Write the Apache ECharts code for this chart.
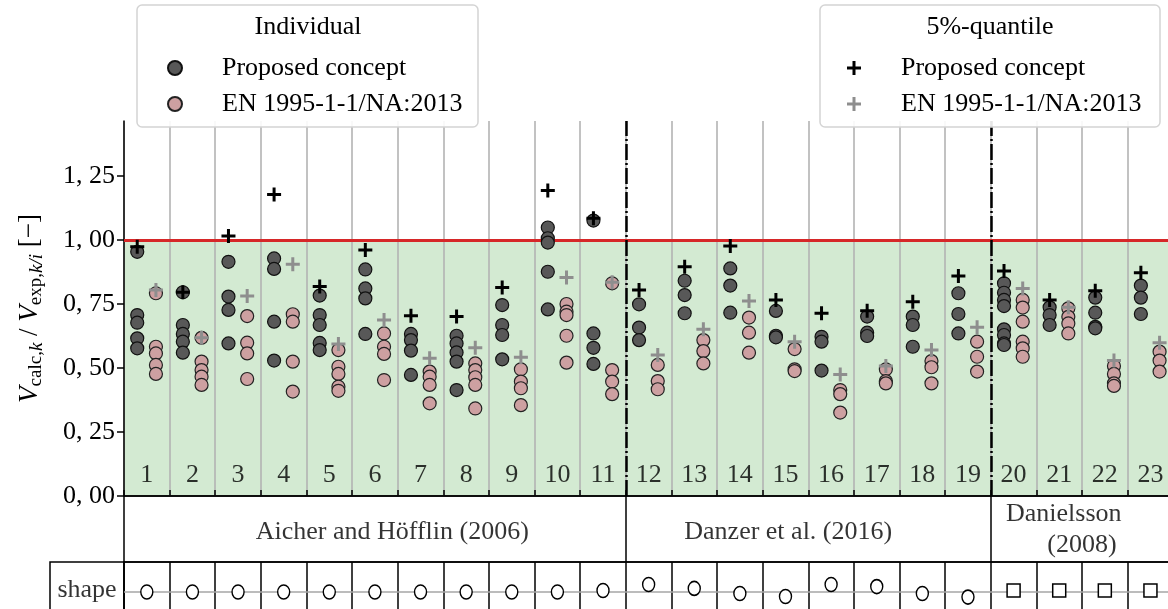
<!DOCTYPE html>
<html>
<head>
<meta charset="utf-8">
<script src="https://cdn.jsdelivr.net/npm/echarts@6/dist/echarts.min.js"></script>
<style>
  html, body { margin: 0; padding: 0; background: #fff; }
  #chart { width: 1168px; height: 609px; }
</style>
</head>
<body>
<div id="chart"></div>
<script>
// categories (test series 1..23)
const categories = ['1', '2', '3', '4', '5', '6', '7', '8', '9', '10', '11', '12',
  '13', '14', '15', '16', '17', '18', '19', '20', '21', '22', '23']

// individual values, proposed concept (one list per category)
const proposedIndividual = [
  [0.954, 0.707, 0.677, 0.616, 0.577],
  [0.796, 0.668, 0.633, 0.603, 0.560],
  [0.915, 0.779, 0.727, 0.596],
  [0.928, 0.887, 0.681, 0.529],
  [0.783, 0.707, 0.668, 0.598, 0.570],
  [0.885, 0.811, 0.772, 0.633],
  [0.633, 0.609, 0.568, 0.473],
  [0.626, 0.596, 0.561, 0.525, 0.414],
  [0.746, 0.668, 0.629, 0.534],
  [1.049, 1.007, 0.990, 0.876, 0.729],
  [1.076, 0.635, 0.579, 0.516],
  [0.749, 0.658, 0.609],
  [0.841, 0.785, 0.714],
  [0.889, 0.822, 0.716],
  [0.723, 0.626, 0.620],
  [0.622, 0.603, 0.490],
  [0.701, 0.638, 0.625],
  [0.701, 0.668, 0.583],
  [0.792, 0.711, 0.635],
  [0.831, 0.794, 0.766, 0.742, 0.651, 0.629, 0.596, 0.590],
  [0.737, 0.707, 0.668],
  [0.775, 0.716, 0.661, 0.655],
  [0.822, 0.775, 0.711]
]

// individual values, EN 1995-1-1/NA:2013
const enIndividual = [
  [0.792, 0.583, 0.557, 0.512, 0.477],
  [0.618, 0.525, 0.492, 0.466, 0.434],
  [0.703, 0.599, 0.557, 0.457],
  [0.710, 0.681, 0.525, 0.408],
  [0.570, 0.505, 0.477, 0.427, 0.411],
  [0.635, 0.583, 0.555, 0.453],
  [0.486, 0.466, 0.434, 0.362],
  [0.518, 0.492, 0.464, 0.434, 0.342],
  [0.495, 0.447, 0.421, 0.355],
  [0.750, 0.720, 0.707, 0.626, 0.521],
  [0.831, 0.492, 0.447, 0.398],
  [0.512, 0.449, 0.417],
  [0.609, 0.566, 0.518],
  [0.697, 0.638, 0.560],
  [0.574, 0.495, 0.488],
  [0.414, 0.398, 0.326],
  [0.495, 0.449, 0.440],
  [0.527, 0.503, 0.440],
  [0.603, 0.544, 0.486],
  [0.766, 0.736, 0.681, 0.603, 0.577, 0.544],
  [0.733, 0.700, 0.674, 0.635],
  [0.508, 0.477, 0.440, 0.430],
  [0.564, 0.529, 0.486]
]

// 5%-quantiles
const proposedQuantile = [0.974, 0.796, 1.016, 1.178, 0.818, 0.961, 0.704, 0.701, 0.815, 1.193, 1.085, 0.805,
  0.896, 0.977, 0.766, 0.714, 0.724, 0.759, 0.859, 0.879, 0.766, 0.802, 0.872]
const enQuantile = [0.805, 0.618, 0.781, 0.905, 0.594, 0.688, 0.538, 0.579, 0.542, 0.854, 0.835, 0.551,
  0.651, 0.762, 0.603, 0.475, 0.508, 0.570, 0.659, 0.811, 0.737, 0.529, 0.599]

const yTicks = [0, 0.25, 0.5, 0.75, 1.0, 1.25]

// source groups (last category of each group)
const groupNames = ['Aicher and Höfflin (2006)', 'Danzer et al. (2016)', 'Danielsson', '(2008)']
const groupEnds = [11, 19, 23]

// cross-section shape per category and its drawn height in the cell
const shapes = ['circle', 'circle', 'circle', 'circle', 'circle', 'circle', 'circle', 'circle', 'circle',
  'circle', 'circle', 'circle', 'circle', 'circle', 'circle', 'circle', 'circle', 'circle', 'circle',
  'square', 'square', 'square', 'square']
const shapeLevel = [0, 0, 0, 0, 0, 0, 0, 0, 0, 0, 0.05, 0.25, 0.12, -0.05, -0.15, 0.25, 0.18, -0.05, -0.17,
  0.05, 0.05, 0.05, 0.05]

// layout
const UNIT = 45.62
const GRID_W = 1064
const X_MAX = GRID_W / UNIT
const FONT = 'Liberation Serif'
const groupLabelPos = [[5.88, 0.455], [14.56, 0.455], [20.6, 0.73], [21.0, 0.26]]
const PLUS = 'path://M-1.5,-7H1.5V-1.5H7V1.5H1.5V7H-1.5V1.5H-7V-1.5H-1.5Z'

const toPoints = (rows, shift) => rows.flatMap((vals, i) => vals.map(v => [i + 0.5 + shift, v]))

const chart = echarts.init(document.getElementById('chart'))

chart.setOption({
  animation: false,
  grid: [
    { left: 124, width: GRID_W, top: 121, height: 375, outerBoundsMode: 'none' },
    { left: 124, width: GRID_W, top: 496, height: 66, outerBoundsMode: 'none', show: true, borderColor: '#000', borderWidth: 1.5 },
    { left: 124, width: GRID_W, top: 562, height: 60, outerBoundsMode: 'none', show: true, borderColor: '#000', borderWidth: 1.5 },
    { left: 50, width: 74, top: 562, height: 60, outerBoundsMode: 'none', show: true, borderColor: '#000', borderWidth: 1.5 }
  ],
  xAxis: [
    {
      gridIndex: 0, type: 'value', min: 0, max: X_MAX, interval: 1,
      axisLine: { lineStyle: { color: '#000', width: 1.5 } },
      axisTick: { show: true, inside: true, length: 6, lineStyle: { color: '#000', width: 1.5 } },
      axisLabel: { show: false },
      splitLine: { show: true, lineStyle: { color: '#b3b3b3', width: 1.6 } }
    },
    { gridIndex: 1, type: 'value', min: 0, max: X_MAX, show: false },
    {
      gridIndex: 2, type: 'value', min: 0, max: X_MAX, interval: 1,
      axisLine: { show: false }, axisTick: { show: false }, axisLabel: { show: false },
      splitLine: { show: true, lineStyle: { color: '#000', width: 1.5 } }
    },
    { gridIndex: 3, type: 'value', min: 0, max: 1, show: false }
  ],
  yAxis: [
    {
      gridIndex: 0, type: 'value', min: 0, max: 1.465, interval: 0.25,
      axisLine: { show: true, lineStyle: { color: '#000', width: 1.5 } },
      axisTick: { show: true, length: 7, customValues: yTicks, lineStyle: { color: '#000', width: 1.5 } },
      axisLabel: {
        customValues: yTicks, margin: 9, color: '#000', fontFamily: FONT, fontSize: 26,
        formatter: v => v.toFixed(2).replace('.', ', ')
      },
      splitLine: { show: false },
      name: '{v|V}{s|calc,}{si|k}{n| / }{v|V}{s|exp,}{si|k/i}{n| [−]}',
      nameLocation: 'middle',
      nameRotate: 90,
      nameGap: 78,
      nameTextStyle: {
        rich: {
          v: { fontFamily: FONT, fontStyle: 'italic', fontSize: 27, lineHeight: 30, verticalAlign: 'top', color: '#000' },
          n: { fontFamily: FONT, fontSize: 27, lineHeight: 30, verticalAlign: 'top', color: '#000' },
          s: { fontFamily: FONT, fontSize: 19, lineHeight: 22, padding: [14, 0, 0, 0], verticalAlign: 'bottom', color: '#000' },
          si: { fontFamily: FONT, fontStyle: 'italic', fontSize: 19, lineHeight: 22, padding: [14, 0, 0, 0], verticalAlign: 'bottom', color: '#000' }
        }
      }
    },
    { gridIndex: 1, type: 'value', min: 0, max: 1, show: false },
    { gridIndex: 2, type: 'value', min: -1, max: 1, show: false },
    { gridIndex: 3, type: 'value', min: -1, max: 1, show: false }
  ],
  legend: [
    {
      data: ['Individual: Proposed concept', 'Individual: EN 1995-1-1/NA:2013'],
      left: 162, top: 49, orient: 'vertical', itemWidth: 84, itemHeight: 14, itemGap: 8,
      selectedMode: false, z: 5,
      formatter: n => n.split(': ')[1],
      textStyle: { fontFamily: FONT, fontSize: 26, lineHeight: 28, color: '#000' }
    },
    {
      data: ['5%-quantile: Proposed concept', '5%-quantile: EN 1995-1-1/NA:2013'],
      left: 842, top: 49, orient: 'vertical', itemWidth: 84, itemHeight: 14, itemGap: 8,
      selectedMode: false, z: 5,
      formatter: n => n.split(': ')[1],
      textStyle: { fontFamily: FONT, fontSize: 26, lineHeight: 28, color: '#000' }
    }
  ],
  graphic: [
    { type: 'rect', z: 3, shape: { x: 137, y: 5, width: 341, height: 122, r: 5 },
      style: { fill: 'rgba(255,255,255,0.9)', stroke: '#d4d4d4', lineWidth: 1.5 } },
    { type: 'rect', z: 3, shape: { x: 820, y: 5, width: 340, height: 122, r: 5 },
      style: { fill: 'rgba(255,255,255,0.9)', stroke: '#d4d4d4', lineWidth: 1.5 } },
    { type: 'text', z: 6, x: 308, y: 27,
      style: { text: 'Individual', textAlign: 'center', textVerticalAlign: 'middle', font: '26px "Liberation Serif"', fill: '#000' } },
    { type: 'text', z: 6, x: 990, y: 27,
      style: { text: '5%-quantile', textAlign: 'center', textVerticalAlign: 'middle', font: '26px "Liberation Serif"', fill: '#000' } }
  ],
  series: [
    // green band below 1.0
    {
      type: 'line', data: [], z: -1, silent: true,
      markArea: {
        silent: true, z: -1,
        itemStyle: { color: '#d3ead2' },
        data: [[{ yAxis: 0 }, { yAxis: 1 }]]
      }
    },
    // limit line and group separators
    {
      type: 'line', data: [], silent: true,
      markLine: {
        silent: true, z: 1, symbol: ['none', 'none'], label: { show: false },
        data: [
          { yAxis: 1, lineStyle: { color: '#d62728', width: 3, type: 'solid' } },
          ...groupEnds.slice(0, 2).map(g => ({ xAxis: g, lineStyle: { color: '#000', width: 2.5, type: [16, 3, 2, 3] } }))
        ]
      }
    },
    {
      name: 'Individual: Proposed concept', type: 'scatter', symbol: 'circle', symbolSize: 13,
      itemStyle: { color: '#585858', borderColor: '#111', borderWidth: 1.2, opacity: 1 },
      data: toPoints(proposedIndividual, -0.21)
    },
    {
      name: 'Individual: EN 1995-1-1/NA:2013', type: 'scatter', symbol: 'circle', symbolSize: 13,
      itemStyle: { color: '#cda0a1', borderColor: '#222', borderWidth: 1.2, opacity: 1 },
      data: toPoints(enIndividual, 0.2)
    },
    {
      name: '5%-quantile: Proposed concept', type: 'scatter', symbol: PLUS, symbolSize: 14, z: 4,
      itemStyle: { color: '#000', opacity: 1 },
      data: proposedQuantile.map((v, i) => [i + 0.5 - 0.21, v])
    },
    {
      name: '5%-quantile: EN 1995-1-1/NA:2013', type: 'scatter', symbol: PLUS, symbolSize: 14, z: 4,
      itemStyle: { color: '#8e8e8e', opacity: 1 },
      data: enQuantile.map((v, i) => [i + 0.5 + 0.2, v])
    },
    // category numbers
    {
      type: 'scatter', silent: true, symbolSize: 1, itemStyle: { color: 'transparent' },
      label: { show: true, position: 'inside', formatter: p => categories[p.dataIndex], color: '#000', fontFamily: FONT, fontSize: 26 },
      data: categories.map((c, i) => [i + 0.5, 0.082])
    },
    // group row
    {
      type: 'scatter', xAxisIndex: 1, yAxisIndex: 1, silent: true, symbolSize: 1,
      itemStyle: { color: 'transparent' },
      label: { show: true, position: 'inside', formatter: p => groupNames[p.dataIndex], color: '#000', fontFamily: FONT, fontSize: 26 },
      data: groupLabelPos,
      markLine: {
        silent: true, symbol: ['none', 'none'], label: { show: false },
        lineStyle: { color: '#000', width: 1.5, type: 'solid' },
        data: groupEnds.slice(0, 2).map(g => ({ xAxis: g }))
      }
    },
    // shape row
    {
      type: 'scatter', xAxisIndex: 2, yAxisIndex: 2, silent: true, z: 4,
      itemStyle: { color: '#fff', borderColor: '#000', borderWidth: 1.5, opacity: 1 },
      data: shapes.map((s, i) => ({
        value: [i + 0.5, shapeLevel[i]],
        symbol: s === 'circle' ? 'circle' : 'rect',
        symbolSize: s === 'circle' ? [12, 14] : [13, 13]
      })),
      markLine: {
        silent: true, z: 1, symbol: ['none', 'none'], label: { show: false },
        lineStyle: { color: '#a6a6a6', width: 1.5, type: 'solid' },
        data: [{ yAxis: 0 }]
      }
    },
    {
      type: 'scatter', xAxisIndex: 3, yAxisIndex: 3, silent: true, symbolSize: 1,
      itemStyle: { color: 'transparent' },
      label: { show: true, position: 'inside', formatter: 'shape', color: '#000', fontFamily: FONT, fontSize: 26 },
      data: [[0.5, 0.05]]
    }
  ]
})
</script>
</body>
</html>
